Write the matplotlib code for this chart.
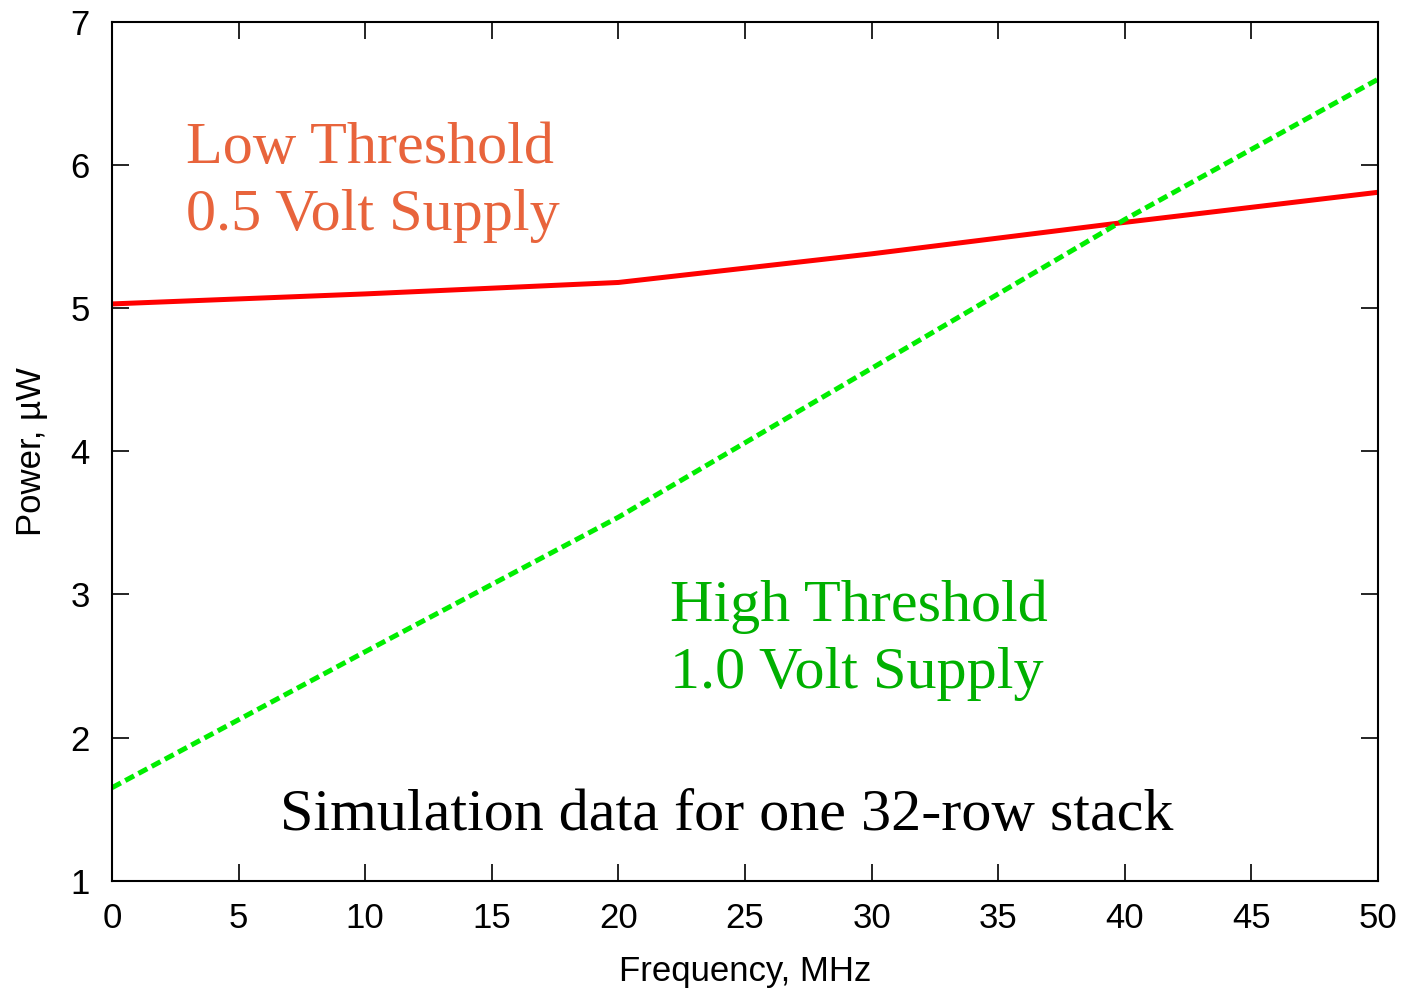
import matplotlib
matplotlib.use('Agg')  # Non-GUI backend
from matplotlib import pyplot as plt

# Data
freq = [0, 10, 20, 30, 40, 50]
power_low = [5.03, 5.10, 5.18, 5.38, 5.60, 5.81]
power_high = [1.65, 2.60, 3.54, 4.58, 5.62, 6.60]
xticks = [0, 5, 10, 15, 20, 25, 30, 35, 40, 45, 50]
yticks = [1, 2, 3, 4, 5, 6, 7]

sans = ['Liberation Sans', 'DejaVu Sans']
serif = ['Liberation Serif', 'DejaVu Serif']

fig = plt.figure(figsize=(14.02, 9.9), dpi=100)
ax = fig.add_axes([0.0799, 0.1104, 0.9030, 0.8674])

ax.plot(freq, power_low, color='#ff0000', linewidth=3.6, solid_joinstyle='round')
ax.plot(freq, power_high, color='#00ee00', linewidth=3.6, dashes=(2.0, 1.0))

ax.set_xlim(0, 50)
ax.set_ylim(1, 7)
ax.set_xticks(xticks)
ax.set_yticks(yticks)
ax.tick_params(direction='in', length=12, width=1.2, top=True, right=True,
               labelsize=25)
ax.tick_params(axis='x', pad=15)
ax.tick_params(axis='y', pad=16)
for lbl in ax.get_xticklabels() + ax.get_yticklabels():
    lbl.set_family(sans)
for s in ax.spines.values():
    s.set_linewidth(1.5)

ax.set_xlabel('Frequency, MHz', fontsize=25, family=sans, labelpad=15)
ax.set_ylabel('Power, µW', fontsize=25, family=sans, labelpad=16)

# Annotations (va='baseline' refers to the last line of multi-line text)
ax.text(2.92, 5.547, 'Low Threshold\n0.5 Volt Supply', color='#e8643c',
        fontsize=43.3, family=serif, va='baseline', linespacing=1.32)
ax.text(22.04, 2.347, 'High Threshold\n1.0 Volt Supply', color='#00b000',
        fontsize=43.3, family=serif, va='baseline', linespacing=1.32)
ax.text(6.63, 1.354, 'Simulation data for one 32-row stack', color='black',
        fontsize=43.3, family=serif, va='baseline')

fig.savefig('out.png', dpi=100)
plt.close(fig)
